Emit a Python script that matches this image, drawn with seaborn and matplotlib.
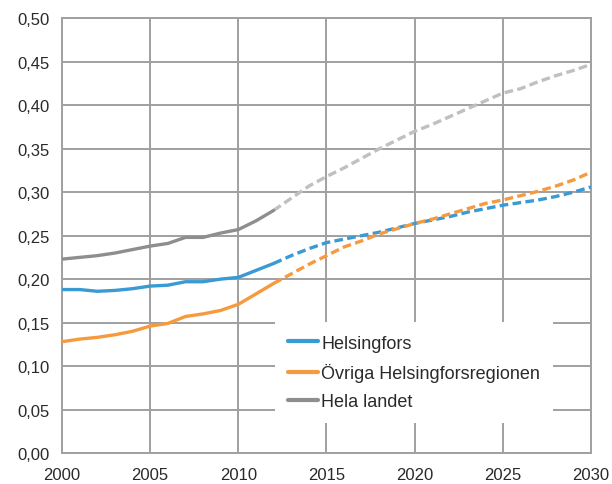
import numpy as np
import pandas as pd
import matplotlib
matplotlib.use("Agg")
import matplotlib.pyplot as plt
import seaborn as sns

# historic values 2000-2012
years_hist = list(range(2000, 2013))
helsingfors_hist = [0.188, 0.188, 0.186, 0.187, 0.189, 0.192, 0.193, 0.197, 0.197, 0.200, 0.202, 0.210, 0.218]
ovriga_hist = [0.128, 0.131, 0.133, 0.136, 0.140, 0.146, 0.149, 0.157, 0.160, 0.164, 0.171, 0.183, 0.195]
hela_hist = [0.223, 0.225, 0.227, 0.230, 0.234, 0.238, 0.241, 0.248, 0.248, 0.253, 0.257, 0.267, 0.279]

# projection 2012-2030
years_proj = list(range(2012, 2031))
helsingfors_proj = [0.218, 0.227, 0.235, 0.242, 0.246, 0.250, 0.254, 0.259, 0.264, 0.268,
                    0.272, 0.277, 0.281, 0.285, 0.288, 0.291, 0.295, 0.300, 0.306]
ovriga_proj = [0.195, 0.206, 0.217, 0.227, 0.237, 0.244, 0.252, 0.258, 0.264, 0.269,
               0.275, 0.281, 0.287, 0.291, 0.296, 0.301, 0.307, 0.314, 0.323]
hela_proj = [0.279, 0.293, 0.307, 0.318, 0.328, 0.339, 0.350, 0.360, 0.370, 0.378,
             0.387, 0.396, 0.405, 0.414, 0.419, 0.427, 0.434, 0.440, 0.447]

names = ["Helsingfors", "Övriga Helsingforsregionen", "Hela landet"]
col_hist = ["#3A9AD3", "#F79A3E", "#8E8E8E"]
col_proj = ["#3A9AD3", "#F79A3E", "#C0C0C0"]

sns.set_style("white")
plt.rcParams["font.family"] = ["Liberation Sans", "DejaVu Sans"]

grid_c = "#A0A0A0"
text_c = "#2A2A2A"

fig = plt.figure(figsize=(6.12, 4.85), dpi=100)
ax = fig.add_axes([62 / 612, 31 / 485, 529 / 612, 434.7 / 485])

hist = [helsingfors_hist, ovriga_hist, hela_hist]
proj = [helsingfors_proj, ovriga_proj, hela_proj]

for i, name in enumerate(names):
    dp = pd.DataFrame({"year": years_proj, "value": proj[i]})
    sns.lineplot(data=dp, x="year", y="value", ax=ax, color=col_proj[i], lw=2.4,
                 dashes=False, zorder=3).lines[-1].set_dashes((2.6, 1.3))
for i, name in enumerate(names):
    dh = pd.DataFrame({"year": years_hist, "value": hist[i]})
    sns.lineplot(data=dh, x="year", y="value", ax=ax, color=col_hist[i], lw=2.4,
                 label=name, zorder=4)

ax.set_xlim(2000, 2030)
ax.set_ylim(0, 0.5)
ax.set_xticks(range(2000, 2031, 5))
ax.set_yticks(np.arange(0, 0.501, 0.05))
ax.set_yticklabels([f"{v:.2f}".replace(".", ",") for v in np.arange(0, 0.501, 0.05)])
ax.set_xlabel("")
ax.set_ylabel("")
ax.grid(True, color=grid_c, lw=1.4)
ax.set_axisbelow(True)
for s in ax.spines.values():
    s.set_color(grid_c)
    s.set_linewidth(1.4)
ax.tick_params(axis="both", colors=grid_c, labelcolor=text_c, labelsize=12,
               length=5, width=1.4, direction="out")
ax.tick_params(axis="y", pad=4)
ax.tick_params(axis="x", pad=5)

leg = ax.legend(loc="upper left", bbox_to_anchor=(0.4026, 0.301), borderaxespad=0,
                fontsize=13, frameon=True, fancybox=False, framealpha=1,
                facecolor="white", edgecolor="none", handlelength=1.7,
                handletextpad=0.15, labelspacing=0.62, borderpad=0.7)
for t in leg.get_texts():
    t.set_color(text_c)
for h in leg.get_lines():
    h.set_linewidth(3.0)
leg.set_zorder(5)

fig.savefig("out.png", dpi=100)
